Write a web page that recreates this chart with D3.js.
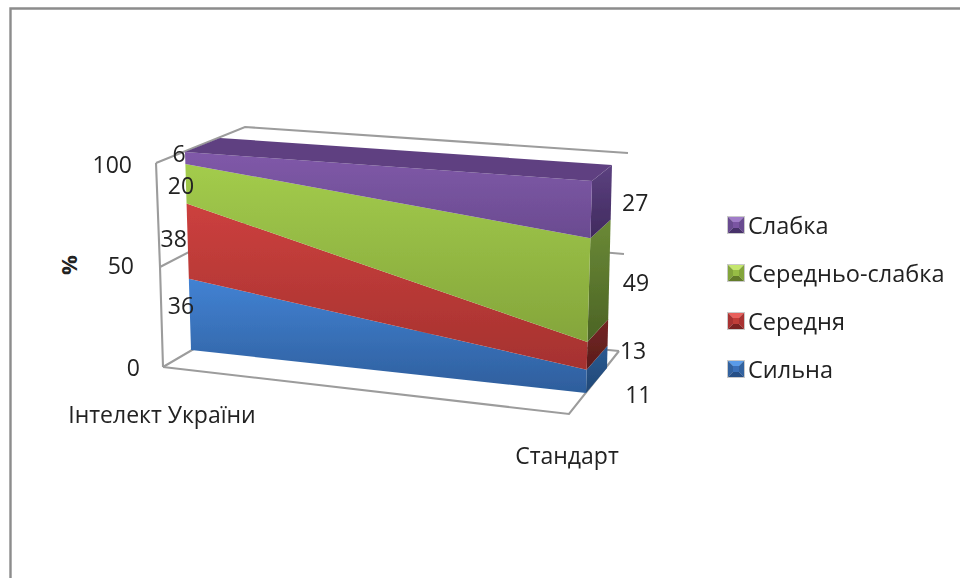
<!DOCTYPE html>
<html><head><meta charset="utf-8">
<script src="https://cdnjs.cloudflare.com/ajax/libs/d3/7.8.5/d3.min.js"></script>
<style>html,body{margin:0;padding:0;background:#fff;overflow:hidden}svg{display:block}
text{font-family:"Open Sans",sans-serif;fill:#222}</style></head><body>
<script>
// Data
const categories = ["Інтелект України", "Стандарт"];
const seriesNames = ["Сильна", "Середня", "Середньо-слабка", "Слабка"];
const sylna = [36, 11];
const serednia = [38, 13];
const seredneSlabka = [20, 49];
const slabka = [6, 27];
const valueTicks = [0, 50, 100];
const axisTitle = "%";

// Styles
const frontTop = ["#4282d3", "#cc403e", "#a3cc4c", "#8059a9"];
const frontBottom = ["#2e5e9c", "#a5322f", "#84a53b", "#6a4b90"];
const sideTop = ["#2b5a92", "#752624", "#6b8a36", "#5c4180"];
const sideBottom = ["#214876", "#5a1c1b", "#4b6325", "#402a5e"];
const markerFaces = [["#5a9be8", "#254f86", "#3a70b8", "#32629f"], ["#e8605c", "#7c2422", "#c03c39", "#a93331"], ["#c4e66e", "#637c2a", "#97bd45", "#83a53a"], ["#a07cc8", "#47306a", "#7a55a2", "#694b90"]];
const labelNudgeLeft = [[-9, -9], [-14, -3], [-5, 1], [-6, -5]];
const labelNudgeRight = [[52, 13], [46, -6], [47, -8], [44, -8]];

const W = 960, H = 578;
const svg = d3.select("body").append("svg").attr("width", W).attr("height", H);
const defs = svg.append("defs");
const soft = defs.append("filter").attr("id", "soft");
soft.append("feGaussianBlur").attr("stdDeviation", 0.45);
const softText = defs.append("filter").attr("id", "softText").attr("x", "-10%").attr("y", "-20%").attr("width", "120%").attr("height", "140%");
softText.append("feGaussianBlur").attr("stdDeviation", 0.35);

const stacksByCat = categories.map((_, i) => {
  let c = 0;
  return [sylna, serednia, seredneSlabka, slabka].map(s => { const a = c; c += s[i]; return [a, c]; });
});

// Projection built from linear scales: category (0/1), depth (0 front / 1 back), value
const val = d3.scaleLinear().domain([0, 100]).range([0, 1]);
const edge = (b, t) => d3.scaleLinear().domain([0, 1]).range([b, t]);
const box = [
  [{x: edge(191, 185), y: edge(350, 152)}, {x: edge(228, 220), y: edge(322, 138)}],
  [{x: edge(586, 592), y: edge(393, 181)}, {x: edge(607, 612), y: edge(368, 165)}]
];
const pt = (cat, depth, v) => { const e = box[cat][depth], k = val(v); return [e.x(k), e.y(k)]; };
const poly = p => p.map(q => q.join(",")).join(" ");

const chart = svg.append("g").attr("filter", "url(#soft)");

// Outer frame
chart.append("path").attr("d", "M10.5,578V8.5H960").attr("fill", "none").attr("stroke", "#8c8c8c").attr("stroke-width", 2.4);

// Walls
const wallLeft = d3.scaleLinear().domain([0, 50, 100]);
const wallFrontX = wallLeft.copy().range([163, 160, 156]), wallFrontY = wallLeft.copy().range([367, 267, 163]);
const wallBackLX = wallLeft.copy().range([250, 247, 245]), wallBackLY = wallLeft.copy().range([316, 222, 127]);
const wallBackRX = wallLeft.copy().range([619, 624, 628]), wallBackRY = wallLeft.copy().range([351, 254, 153]);
const wallStroke = "#9c9c9c";
const wl = (p) => chart.append("path").attr("d", d3.line()(p)).attr("fill", "none").attr("stroke", wallStroke).attr("stroke-width", 2.1);
wl(valueTicks.map(v => [wallFrontX(v), wallFrontY(v)]));
valueTicks.forEach(v => wl([[wallFrontX(v), wallFrontY(v)], [wallBackLX(v), wallBackLY(v)], [wallBackRX(v), wallBackRY(v)]]));
wl([[wallFrontX(0), wallFrontY(0)], [569, 414], [wallBackRX(0), wallBackRY(0)]]);

// Series
seriesNames.forEach((name, s) => {
  const g1 = defs.append("linearGradient").attr("id", "f" + s).attr("x1", 0).attr("y1", 0).attr("x2", 0).attr("y2", 1);
  g1.append("stop").attr("offset", 0).attr("stop-color", frontTop[s]);
  g1.append("stop").attr("offset", 1).attr("stop-color", frontBottom[s]);
  const g2 = defs.append("linearGradient").attr("id", "s" + s).attr("x1", 0).attr("y1", 0).attr("x2", 0).attr("y2", 1);
  g2.append("stop").attr("offset", 0).attr("stop-color", sideTop[s]);
  g2.append("stop").attr("offset", 1).attr("stop-color", sideBottom[s]);
});

seriesNames.forEach((name, s) => {
  const [a0, a1] = stacksByCat[0][s], [b0, b1] = stacksByCat[1][s];
  chart.append("polygon").attr("points", poly([pt(1, 0, b0), pt(1, 1, b0), pt(1, 1, b1), pt(1, 0, b1)])).attr("fill", `url(#s${s})`);
  chart.append("polygon").attr("points", poly([pt(0, 0, a0), pt(1, 0, b0), pt(1, 0, b1), pt(0, 0, a1)])).attr("fill", `url(#f${s})`);
});
chart.append("polygon").attr("points", poly([pt(0, 0, 100), pt(1, 0, 100), pt(1, 1, 100), pt(0, 1, 100)])).attr("fill", "#5f4181");

// Text
const txt = (x, y, t, anchor, size) => svg.append("text").attr("x", x).attr("y", y).attr("text-anchor", anchor || "start").attr("font-size", size || 23).attr("dominant-baseline", "central").attr("filter", "url(#softText)").text(t);

[[valueTicks[0], 140], [valueTicks[1], 134], [valueTicks[2], 132]].forEach(([v, x]) => txt(x, wallFrontY(v) + (v === 100 ? 1 : v === 50 ? -2 : 0), v, "end"));
txt(162, 414, categories[0], "middle", 23);
txt(567, 455, categories[1], "middle", 23);
svg.append("text").attr("transform", "translate(68,265) rotate(-90)").attr("text-anchor", "middle").attr("dominant-baseline", "central").attr("font-size", 22).attr("font-weight", 700).text(axisTitle);

seriesNames.forEach((n, s) => {
  const [a0, a1] = stacksByCat[0][s], [b0, b1] = stacksByCat[1][s];
  const l = pt(0, 0, (a0 + a1) / 2), r = pt(1, 0, (b0 + b1) / 2);
  txt(l[0] + labelNudgeLeft[s][0], l[1] + labelNudgeLeft[s][1], a1 - a0, "middle");
  txt(r[0] + labelNudgeRight[s][0], r[1] + labelNudgeRight[s][1], b1 - b0, "middle");
});

// Legend
const legendY = d3.scalePoint().domain(seriesNames.slice().reverse()).range([225, 369]);
seriesNames.forEach((n, s) => {
  const y = legendY(n), x0 = 728, x1 = 744, y0 = y - 8, y1 = y + 8, i = 5;
  const m = svg.append("g").attr("filter", "url(#soft)");
  const c = markerFaces[s];
  m.append("rect").attr("x", x0 - 1).attr("y", y0 - 1).attr("width", x1 - x0 + 2).attr("height", y1 - y0 + 2).attr("fill", "#c9c9c9");
  m.append("polygon").attr("points", poly([[x0, y0], [x1, y0], [x1 - i, y0 + i], [x0 + i, y0 + i]])).attr("fill", c[0]);
  m.append("polygon").attr("points", poly([[x0, y1], [x1, y1], [x1 - i, y1 - i], [x0 + i, y1 - i]])).attr("fill", c[1]);
  m.append("polygon").attr("points", poly([[x0, y0], [x0 + i, y0 + i], [x0 + i, y1 - i], [x0, y1]])).attr("fill", c[3]);
  m.append("polygon").attr("points", poly([[x1, y0], [x1 - i, y0 + i], [x1 - i, y1 - i], [x1, y1]])).attr("fill", c[3]);
  m.append("rect").attr("x", x0 + i).attr("y", y0 + i).attr("width", x1 - x0 - 2 * i).attr("height", y1 - y0 - 2 * i).attr("fill", c[2]);
  txt(748, y, n, "start", 23.5);
});
</script></body></html>
